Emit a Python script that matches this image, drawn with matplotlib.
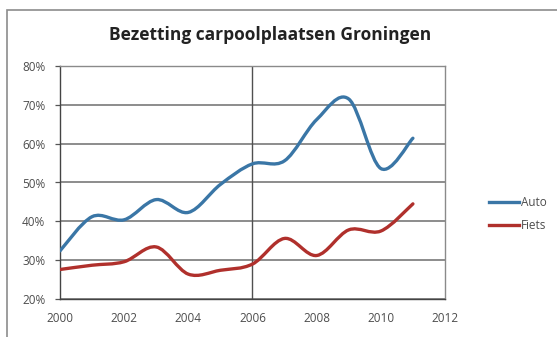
import matplotlib.pyplot as plt
import numpy as np
from matplotlib.path import Path
from matplotlib.patches import PathPatch, Rectangle
from matplotlib.lines import Line2D

years = [2000, 2001, 2002, 2003, 2004, 2005, 2006, 2007, 2008, 2009, 2010, 2011]
auto = [0.324, 0.412, 0.404, 0.456, 0.423, 0.495, 0.548, 0.556, 0.662, 0.715, 0.536, 0.614]
fiets = [0.276, 0.287, 0.296, 0.334, 0.264, 0.274, 0.290, 0.356, 0.312, 0.378, 0.375, 0.445]

title = 'Bezetting carpoolplaatsen Groningen'
y_ticks = [0.2, 0.3, 0.4, 0.5, 0.6, 0.7, 0.8]
x_ticks = [2000, 2002, 2004, 2006, 2008, 2010, 2012]

blue = '#3a76a6'
red = '#b0302c'
txt = '#4d4d4d'


def smooth_path(xs, ys, t=1/6):
    # Excel-style smooth line: Catmull-Rom segments as cubic Bezier curves
    xs = np.asarray(xs, float)
    ys = np.asarray(ys, float)
    n = len(xs)
    verts = [(xs[0], ys[0])]
    codes = [Path.MOVETO]
    for i in range(n - 1):
        p0 = (xs[max(i - 1, 0)], ys[max(i - 1, 0)])
        p1 = (xs[i], ys[i])
        p2 = (xs[i + 1], ys[i + 1])
        p3 = (xs[min(i + 2, n - 1)], ys[min(i + 2, n - 1)])
        c1 = (p1[0] + (p2[0] - p0[0]) * t, p1[1] + (p2[1] - p0[1]) * t)
        c2 = (p2[0] - (p3[0] - p1[0]) * t, p2[1] - (p3[1] - p1[1]) * t)
        verts += [c1, c2, p2]
        codes += [Path.CURVE4] * 3
    return Path(verts, codes)


plt.rcParams['font.family'] = ['Open Sans', 'DejaVu Sans']

fig = plt.figure(figsize=(5.57, 3.37), dpi=100)
fig.patches.append(Rectangle((7 / 557, -0.05), 1.0, 1 - 10 / 337 + 0.05,
                             transform=fig.transFigure, fill=False,
                             edgecolor='#8c8c8c', linewidth=1.2))

ax = fig.add_axes([60 / 557, 1 - 299 / 337, 385 / 557, 233 / 337])
ax.set_xlim(2000, 2012)
ax.set_ylim(0.2, 0.8)

for v in y_ticks:
    ax.axhline(v, color='#6e6e6e', linewidth=1.1, zorder=1)
ax.axvline(2006, color='#505050', linewidth=1.0, zorder=1)

for ys, col in [(auto, blue), (fiets, red)]:
    ax.add_patch(PathPatch(smooth_path(years, ys), facecolor='none',
                           edgecolor=col, linewidth=2.4, zorder=3,
                           capstyle='round', joinstyle='round'))

ax.set_xticks(x_ticks)
ax.set_yticks(y_ticks)
ax.set_yticklabels(['{:.0f}%'.format(v * 100) for v in y_ticks])
ax.tick_params(axis='both', colors='#555555', labelcolor=txt, labelsize=8.5,
               width=0.9)
ax.tick_params(axis='y', length=3.5, pad=7)
ax.tick_params(axis='x', length=0, pad=9)
for s in ['left', 'bottom']:
    ax.spines[s].set_color('#444444')
    ax.spines[s].set_linewidth(1.0)
for s in ['top', 'right']:
    ax.spines[s].set_color('#8a8a8a')
    ax.spines[s].set_linewidth(1.0)

fig.text(270 / 557, 1 - 35 / 337, title, ha='center', va='center',
         fontsize=12.5, fontweight='bold', color='#222222')

handles = [Line2D([], [], color=blue, linewidth=2.4),
           Line2D([], [], color=red, linewidth=2.4)]
fig.legend(handles, ['Auto', 'Fiets'], loc='center left',
           bbox_to_anchor=(478 / 557, 1 - 214 / 337), frameon=False,
           fontsize=8.5, handlelength=2.6, handletextpad=0.15,
           labelspacing=0.9, labelcolor=txt)

fig.savefig('out.png', dpi=100)
